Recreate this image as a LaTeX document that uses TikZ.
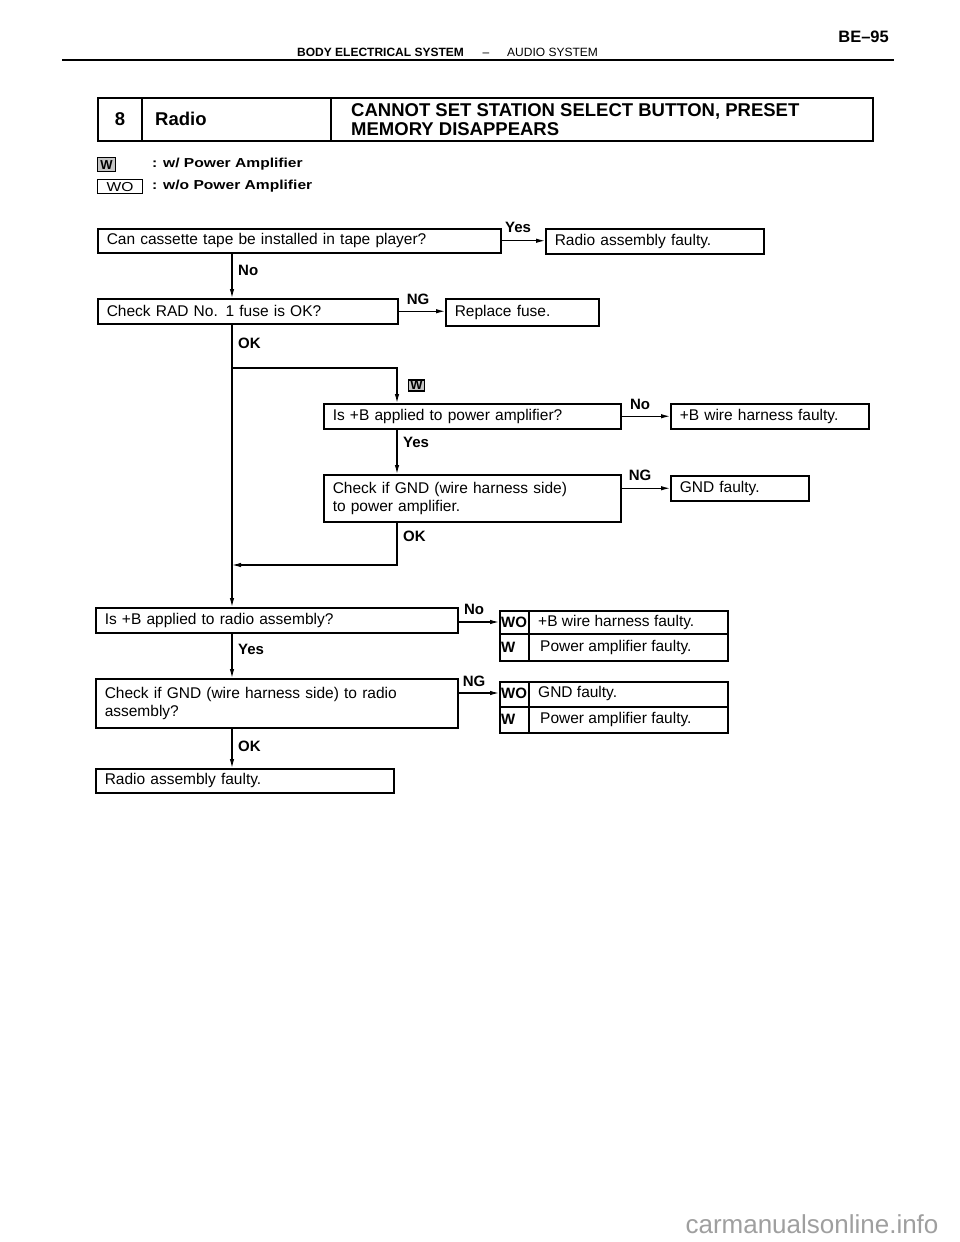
\documentclass[tikz,border=0pt]{standalone}
\usepackage{fontspec}
\setmainfont{Liberation Sans}
\newfontfamily\widefont[FakeStretch=1.2]{Liberation Sans}
\usetikzlibrary{arrows.meta}
\begin{document}
\begin{tikzpicture}[x=1pt,y=-1pt,
  box/.style={draw, line width=1.5pt, anchor=north west, inner xsep=9pt, inner ysep=0pt,
    align=left, font=\fontsize{15.5}{17.5}\selectfont},
  tbl/.style={draw, line width=1.5pt, anchor=north west, inner sep=0pt},
  celltext/.style={anchor=west, inner sep=0pt, font=\fontsize{15.5}{17.5}\selectfont},
  cellcode/.style={anchor=west, inner sep=0pt, font=\bfseries\fontsize{15}{15}\selectfont},
  conn/.style={line width=1.2pt},
  arr/.style={conn, -{Latex[length=9pt,width=4.5pt]}},
  lbl/.style={inner sep=0pt, font=\bfseries\fontsize{15}{15}\selectfont},
  wtag/.style={draw, line width=1.2pt, fill=gray!45, inner xsep=1.5pt, inner ysep=1pt,
    font=\bfseries\fontsize{13}{13}\selectfont},
  legtext/.style={anchor=west, inner sep=0pt, font=\widefont\bfseries\fontsize{13}{13}\selectfont},
]
\useasboundingbox (0,0) rectangle (960,1242);
\fill[white] (0,0) rectangle (960,1242);

% page header
\node[anchor=base west, inner sep=0pt, font=\bfseries\fontsize{12}{12}\selectfont] (hd1) at (297,56) {BODY ELECTRICAL SYSTEM};
\node[anchor=base, inner sep=0pt, font=\fontsize{12}{12}\selectfont] (hd2) at (486,56) {\textendash};
\node[anchor=base west, inner sep=0pt, font=\fontsize{12}{12}\selectfont] (hd3) at (507,56) {AUDIO SYSTEM};
\node[anchor=base east, inner sep=0pt, font=\bfseries\fontsize{16.5}{16.5}\selectfont] (pg) at (889,42) {BE\textendash95};
\draw[line width=1.6pt] (62,60) -- (894,60);

% title box
\node[tbl, minimum width=775pt, minimum height=43pt] (tb) at (97,97) {};
\draw[line width=1.2pt] ([xshift=45pt]tb.north west) -- ([xshift=45pt]tb.south west);
\draw[line width=1.2pt] ([xshift=234pt]tb.north west) -- ([xshift=234pt]tb.south west);
\node[inner sep=0pt, font=\bfseries\fontsize{18.5}{18.5}\selectfont] (t8) at (120,119) {8};
\node[anchor=west, inner sep=0pt, font=\bfseries\fontsize{18.5}{18.5}\selectfont] (tr) at (155,119) {Radio};
\node[anchor=west, align=left, inner sep=0pt, font=\bfseries\fontsize{18.5}{19.5}\selectfont] (tt) at (351,119.5)
  {CANNOT SET STATION SELECT BUTTON, PRESET\\MEMORY DISAPPEARS};

% legend
\node[wtag, anchor=north west, minimum width=18pt, minimum height=14pt] (lw) at (97,157) {W};
\node[draw, line width=1.2pt, anchor=north west, minimum width=45pt, minimum height=14pt, inner sep=0pt,
  font=\widefont\fontsize{13}{13}\selectfont] (lwo) at (97,179) {WO};
\node[legtext] (lwt) at (152,164) {: w/ Power Amplifier};
\node[legtext] (lwot) at (152,186) {: w/o Power Amplifier};

% column coordinates
\coordinate (cx) at (232,0);
\coordinate (bx) at (397,0);

% boxes
\node[box, minimum height=24pt, text width=385pt] (A) at (97,228) {Can cassette tape be installed in tape player?};
\node[box, minimum height=25pt, text width=200pt] (B) at (545,228) {Radio assembly faulty.};
\node[box, minimum height=25pt, text width=282pt] (C) at (97,298) {Check RAD No. 1 fuse is OK?};
\node[box, minimum height=27pt, text width=135pt] (D) at (445,298) {Replace fuse.};
\node[box, minimum height=25pt, text width=279pt] (F) at (323,403) {Is +B applied to power amplifier?};
\node[box, minimum height=25pt, text width=180pt] (G) at (670,403) {+B wire harness faulty.};
\node[box, minimum height=47pt, text width=279pt] (H) at (323,474) {Check if GND (wire harness side)\\to power amplifier.};
\node[box, minimum height=25pt, text width=120pt] (I) at (670,475) {GND faulty.};
\node[box, minimum height=25pt, text width=344pt] (E) at (95,607) {Is +B applied to radio assembly?};
\node[box, minimum height=49pt, text width=344pt] (K) at (95,678) {Check if GND (wire harness side) to radio\\assembly?};
\node[box, minimum height=24pt, text width=280pt] (M) at (95,768) {Radio assembly faulty.};

% table J
\node[tbl, minimum width=228pt, minimum height=50pt] (J) at (499,610) {};
\draw[line width=1.2pt] ([yshift=-24pt]J.north west) -- ([yshift=-24pt]J.north east);
\draw[line width=1.2pt] ([xshift=30pt]J.north west) -- ([xshift=30pt]J.south west);
\node[cellcode] (Jwo) at (501,622) {WO};
\node[celltext] (Jt1) at (538,622) {+B wire harness faulty.};
\node[cellcode] (Jw) at (501,647) {W};
\node[celltext] (Jt2) at (540,647) {Power amplifier faulty.};

% table L
\node[tbl, minimum width=228pt, minimum height=51pt] (L) at (499,681) {};
\draw[line width=1.2pt] ([yshift=-26pt]L.north west) -- ([yshift=-26pt]L.north east);
\draw[line width=1.2pt] ([xshift=30pt]L.north west) -- ([xshift=30pt]L.south west);
\node[cellcode] (Lwo) at (501,693) {WO};
\node[celltext] (Lt1) at (538,693) {GND faulty.};
\node[cellcode] (Lw) at (501,719) {W};
\node[celltext] (Lt2) at (540,719) {Power amplifier faulty.};

% connectors
\draw[arr] (A.east) -- (A.east -| B.west);
\node[lbl] (l1) at (518,227) {Yes};
\draw[arr] (A.south -| cx) -- (C.north -| cx);
\node[lbl, anchor=west] (l2) at (238,270) {No};
\draw[arr] (C.east) -- (C.east -| D.west);
\node[lbl] (l3) at (418,299) {NG};
\draw[arr] (C.south -| cx) -- (E.north -| cx);
\node[lbl, anchor=west] (l4) at (238,343) {OK};
\coordinate (j1) at (232,368);
\coordinate (j1r) at (397,368);
\draw[arr] (j1) -- (j1r) -- (F.north -| bx);
\node[wtag] (wt) at (416.5,385.5) {W};
\draw[arr] (F.east) -- (F.east -| G.west);
\node[lbl] (l5) at (640,404) {No};
\draw[arr] (F.south -| bx) -- (H.north -| bx);
\node[lbl, anchor=west] (l6) at (403,442) {Yes};
\draw[arr] (H.east |- I.west) -- (I.west);
\node[lbl] (l7) at (640,475) {NG};
\coordinate (j2) at (397,565);
\coordinate (j2l) at (232,565);
\draw[arr] (H.south -| bx) -- (j2) -- (j2l);
\node[lbl, anchor=west] (l8) at (403,536) {OK};
\draw[arr] (E.east |- Jwo.west) -- (Jwo.west -| J.west);
\node[lbl] (l9) at (474,609) {No};
\draw[arr] (E.south -| cx) -- (K.north -| cx);
\node[lbl, anchor=west] (l10) at (238,649) {Yes};
\draw[arr] (K.east |- Lwo.west) -- (Lwo.west -| L.west);
\node[lbl] (l11) at (474,681) {NG};
\draw[arr] (K.south -| cx) -- (M.north -| cx);
\node[lbl, anchor=west] (l12) at (238,746) {OK};

% watermark
\node[inner sep=0pt, text=gray!75, font=\fontsize{26}{26}\selectfont] (wm) at (812,1224) {carmanualsonline.info};
\end{tikzpicture}
\end{document}
